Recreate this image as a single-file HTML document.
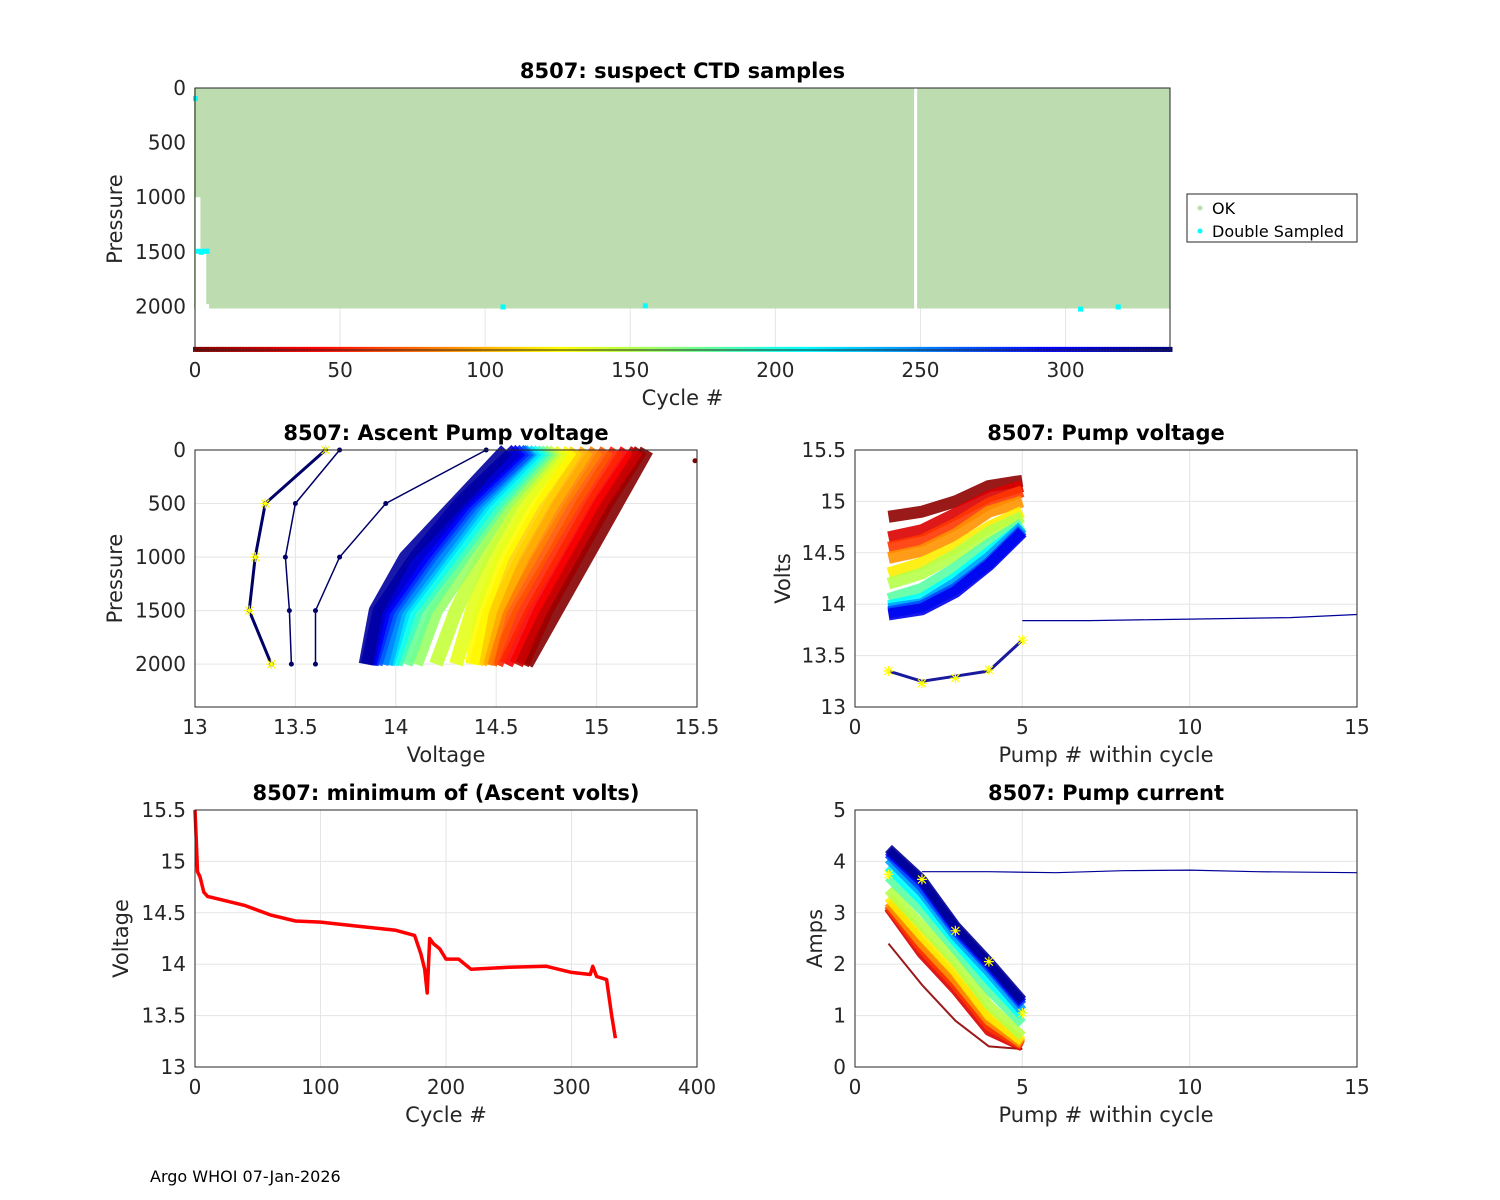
<!DOCTYPE html>
<html><head><meta charset="utf-8"><style>
body{margin:0;background:#fff;}
svg{display:block;font-family:"DejaVu Sans","Liberation Sans",sans-serif;}
</style></head><body>
<svg id="fig" width="1500" height="1200" xmlns="http://www.w3.org/2000/svg">
<rect width="1500" height="1200" fill="#fff"/>
<text x="150" y="1182" font-size="16" fill="#000">Argo WHOI 07-Jan-2026</text>
</svg>
<script>
// ---------- data ----------
const topXTicks=[0,50,100,150,200,250,300];
const topYTicks=[0,500,1000,1500,2000];
const nCycles=336;
const shortProfiles=[[0,1000],[1,1000],[2,1500],[3,1500],[4,1980],[248,0]];
const doubleSampledCycles=[0,1,2,3,4,106,155,305,318];
const doubleSampledPressures=[100,1500,1510,1500,1500,2010,2000,2030,2010];

const apvPressures=[0,500,1000,1500,2000];
const apvCycles=[2,10,25,40,55,70,85,100,112,125,135,145,160,175,190,205,220,235,250,265,280,295,310,325];
const apvVolts=[
[15.25,15.1,14.95,14.8,14.65],[15.22,15.05,14.9,14.75,14.63],[15.2,15.02,14.87,14.72,14.6],
[15.15,14.98,14.83,14.68,14.55],[15.1,14.93,14.78,14.62,14.5],[15.05,14.88,14.72,14.57,14.47],
[15.0,14.82,14.67,14.52,14.45],[14.95,14.78,14.63,14.5,14.42],[14.9,14.73,14.58,14.47,14.4],
[14.87,14.68,14.53,14.43,14.38],[14.83,14.63,14.48,14.38,14.3],[14.8,14.58,14.43,14.3,14.2],
[14.78,14.55,14.38,14.2,14.1],[14.76,14.52,14.33,14.15,14.05],[14.74,14.5,14.3,14.1,14.0],
[14.72,14.47,14.27,14.07,13.98],[14.7,14.44,14.24,14.04,13.96],[14.68,14.42,14.22,14.02,13.95],
[14.67,14.4,14.2,14.0,13.93],[14.66,14.38,14.17,13.98,13.9],[14.64,14.36,14.15,13.96,13.88],
[14.62,14.34,14.13,13.94,13.87],[14.6,14.32,14.1,13.92,13.86],[14.55,14.3,14.05,13.9,13.85]];
const apvOutlierVolts=[[13.65,13.35,13.3,13.27,13.38],[13.72,13.5,13.45,13.47,13.48],[14.45,13.95,13.72,13.6,13.6]];

const pvPumps=[1,2,3,4,5];
const pvCycles=[5,30,60,90,120,150,180,210,240,270,300,330];
const pvVolts=[
[14.85,14.9,15.0,15.15,15.2],[14.65,14.72,14.88,15.05,15.15],[14.55,14.62,14.78,14.98,15.1],
[14.45,14.52,14.68,14.9,15.0],[14.3,14.4,14.55,14.75,14.9],[14.2,14.3,14.48,14.7,14.85],
[14.05,14.15,14.35,14.58,14.78],[13.98,14.05,14.25,14.5,14.75],[13.95,14.0,14.2,14.45,14.75],
[13.92,13.98,14.15,14.4,14.72],[13.9,13.95,14.12,14.38,14.7],[13.35,13.25,13.3,13.35,13.65]];
const pvLongPumps=[5,7,9,11,13,15];
const pvLongVolts=[13.84,13.84,13.85,13.86,13.87,13.9];
const pvStarVolts=[13.35,13.23,13.28,13.36,13.65];

const pcCycles=[5,30,60,90,120,150,180,210,240,270,300,330];
const pcAmps=[
[2.4,1.6,0.9,0.4,0.35],[3.1,2.2,1.5,0.7,0.4],[3.15,2.3,1.6,0.8,0.42],
[3.2,2.4,1.7,0.9,0.45],[3.3,2.55,1.85,1.0,0.5],[3.45,2.75,2.05,1.2,0.6],
[3.7,3.05,2.3,1.5,0.85],[3.9,3.25,2.45,1.7,1.0],[4.05,3.4,2.55,1.85,1.1],
[4.15,3.5,2.65,1.95,1.2],[4.2,3.6,2.7,2.0,1.25],[4.25,3.65,2.75,2.05,1.3]];
const pcLongPumps=[2,4,6,8,10,12,15];
const pcLongAmps=[3.8,3.8,3.78,3.82,3.83,3.8,3.78];
const pcStarAmps=[3.75,3.65,2.65,2.05,1.05];

const mvCycles=[0,1,2,4,5,7,10,20,40,60,80,100,130,160,175,180,183,185,187,190,195,200,210,220,250,280,300,315,317,320,328,332,335];
const mvVolts=[15.5,15.2,14.9,14.85,14.8,14.7,14.66,14.63,14.57,14.48,14.42,14.41,14.37,14.33,14.28,14.1,13.95,13.72,14.25,14.2,14.15,14.05,14.05,13.95,13.97,13.98,13.92,13.9,13.98,13.88,13.85,13.5,13.28];

// ---------- helpers ----------
const NS="http://www.w3.org/2000/svg";
const svg=document.getElementById('fig');
function el(tag,attrs,parent){const e=document.createElementNS(NS,tag);for(const k in attrs)e.setAttribute(k,attrs[k]);(parent||svg).appendChild(e);return e;}
function jet(t){t=Math.max(0,Math.min(1,t));const f=x=>Math.max(0,Math.min(1,x));
 const r=f(1.5-Math.abs(4*t-3)),g=f(1.5-Math.abs(4*t-2)),b=f(1.5-Math.abs(4*t-1));
 return `rgb(${Math.round(r*255)},${Math.round(g*255)},${Math.round(b*255)})`;}
function cycColor(c){return jet(1-c/nCycles);}
function makeAxes(name,box,xd,yd,xt,yt,revY,opts){
 const g=el('g',{});
 
 
 const sx=v=>box.x+(v-xd[0])/(xd[1]-xd[0])*box.w;
 const sy=revY?v=>box.y+(v-yd[0])/(yd[1]-yd[0])*box.h:v=>box.y+box.h-(v-yd[0])/(yd[1]-yd[0])*box.h;
 const grid=el('g',{},g);
 if(opts.grid){xt.forEach(v=>el('line',{x1:sx(v),x2:sx(v),y1:box.y,y2:box.y+box.h,stroke:'#e5e5e5','stroke-width':1},grid));
  yt.forEach(v=>el('line',{x1:box.x,x2:box.x+box.w,y1:sy(v),y2:sy(v),stroke:'#e5e5e5','stroke-width':1},grid));}
 const plot=el('g',{},g);
 const frame=el('g',{},g);
 return {g,plot,frame,sx,sy,box,finish(){
  el('rect',{x:box.x,y:box.y,width:box.w,height:box.h,fill:'none',stroke:'#262626','stroke-width':1},frame);
  xt.forEach(v=>{const t=el('text',{x:sx(v),y:box.y+box.h+27,'font-size':20,'text-anchor':'middle',fill:'#262626'},frame);t.textContent=v;
   });
  yt.forEach(v=>{const t=el('text',{x:box.x-9,y:sy(v)+7,'font-size':20,'text-anchor':'end',fill:'#262626'},frame);t.textContent=v;
   });
  const tt=el('text',{x:box.x+box.w/2,y:box.y-10,'font-size':21,'font-weight':'bold','text-anchor':'middle',fill:'#000'},frame);tt.textContent=opts.title;
  
  const xl=el('text',{x:box.x+box.w/2,y:box.y+box.h+55,'font-size':21,'text-anchor':'middle',fill:'#262626'},frame);xl.textContent=opts.xlabel;
  
  const yl=el('text',{x:0,y:0,'font-size':21,'text-anchor':'middle',fill:'#262626',transform:`translate(${opts.ylx},${box.y+box.h/2}) rotate(-90)`},frame);yl.textContent=opts.ylabel;
  
 }};
}
function poly(ax,xs,ys,attrs){const pts=xs.map((x,i)=>ax.sx(x).toFixed(1)+','+ax.sy(ys[i]).toFixed(1)).join(' ');
 const p=el('polyline',Object.assign({points:pts,fill:'none'},attrs),ax.plot);return p;}
function star(ax,x,y){const cx=ax.sx(x),cy=ax.sy(y);const s=el('path',{d:`M${cx-5},${cy}h10M${cx},${cy-5}v10M${cx-4},${cy-4}l8,8M${cx-4},${cy+4}l8,-8`,stroke:'#ffff00','stroke-width':1.2},ax.plot);
 }

// ---------- top panel ----------
(function(){
 const ax=makeAxes('suspect-ctd-panel',{x:195,y:88,w:975,h:262},[0,nCycles],[0,2400],topXTicks,topYTicks,true,{grid:true,title:'8507: suspect CTD samples',xlabel:'Cycle #',ylabel:'Pressure',ylx:122});
 el('rect',{x:194,y:88,width:976,height:ax.sy(2020)-88,fill:'#bddcb0'},ax.plot);
 shortProfiles.forEach(([c,p])=>{const x=ax.sx(c);el('rect',{x:x-0.5,y:ax.sy(p||1),width:3,height:ax.sy(2025)-ax.sy(p),fill:'#fff'},ax.plot);});
 el('rect',{x:ax.sx(248),y:88,width:1.5,height:ax.sy(2020)-88,fill:'#fff'},ax.plot);
 doubleSampledCycles.forEach((c,i)=>{const d=el('rect',{x:ax.sx(c)-2,y:ax.sy(doubleSampledPressures[i])-3,width:5,height:5,fill:'#00ffff'},ax.plot);
  });
 for(let c=0;c<=nCycles;c++){el('rect',{x:ax.sx(c)-2,y:ax.sy(2390)-2,width:4.5,height:5,fill:cycColor(c)},ax.plot);}
 ax.finish();
 const lg=el('g',{});
 el('rect',{x:1187,y:194,width:170,height:48,fill:'#fff',stroke:'#262626'},lg);
 el('circle',{cx:1200,cy:208,r:2.5,fill:'#bddcb0'},lg);
 el('circle',{cx:1200,cy:231,r:2.5,fill:'#00ffff'},lg);
 const t1=el('text',{x:1212,y:214,'font-size':16},lg);t1.textContent='OK';
 const t2=el('text',{x:1212,y:237,'font-size':16},lg);t2.textContent='Double Sampled';
})();

// ---------- ascent pump voltage ----------
(function(){
 const ax=makeAxes('ascent-pump-voltage-panel',{x:195,y:450,w:502,h:257},[13,15.5],[0,2400],[13,13.5,14,14.5,15,15.5],[0,500,1000,1500,2000],true,{grid:true,title:'8507: Ascent Pump voltage',xlabel:'Voltage',ylabel:'Pressure',ylx:122});
 apvVolts.forEach((vs,i)=>{
  const c=apvCycles[i];
  const pts=vs.map((v,j)=>ax.sx(v).toFixed(1)+','+ax.sy(apvPressures[j]).toFixed(1)).join(' ');
  const p=el('polyline',{points:pts,fill:'none',stroke:cycColor(c),'stroke-width':14,'stroke-linejoin':'round','stroke-opacity':0.9},ax.plot);
  
 });
 apvOutlierVolts.forEach((vs,i)=>{
  const pts=vs.map((v,j)=>ax.sx(v).toFixed(1)+','+ax.sy(apvPressures[j]).toFixed(1)).join(' ');
  const p=el('polyline',{points:pts,fill:'none',stroke:'#000066','stroke-width':i==0?3:1.5},ax.plot);
  
  vs.forEach((v,j)=>el('circle',{cx:ax.sx(v),cy:ax.sy(apvPressures[j]),r:2.5,fill:'#000066'},ax.plot));
 });
 el('circle',{cx:ax.sx(15.49),cy:ax.sy(100),r:2.5,fill:'#800000'},ax.plot);
 apvOutlierVolts[0].forEach((v,j)=>star(ax,v,apvPressures[j]));
 ax.finish();
})();

// ---------- pump voltage ----------
(function(){
 const ax=makeAxes('pump-voltage-panel',{x:855,y:450,w:502,h:257},[0,15],[13,15.5],[0,5,10,15],[13,13.5,14,14.5,15,15.5],false,{grid:true,title:'8507: Pump voltage',xlabel:'Pump # within cycle',ylabel:'Volts',ylx:790});
 pvVolts.forEach((vs,i)=>{const p=poly(ax,pvPumps.slice(0,vs.length),vs,{stroke:cycColor(pvCycles[i]),'stroke-width':i==pvVolts.length-1?3:12,'stroke-linejoin':'round','stroke-opacity':0.9});
  });
 const l=poly(ax,pvLongPumps,pvLongVolts,{stroke:'#000099','stroke-width':1.2});
 
 pvStarVolts.forEach((v,j)=>star(ax,pvPumps[j],v));
 ax.finish();
})();

// ---------- minimum ascent volts ----------
(function(){
 const ax=makeAxes('minimum-ascent-volts-panel',{x:195,y:810,w:502,h:257},[0,400],[13,15.5],[0,100,200,300,400],[13,13.5,14,14.5,15,15.5],false,{grid:true,title:'8507: minimum of (Ascent volts)',xlabel:'Cycle #',ylabel:'Voltage',ylx:128});
 const l=poly(ax,mvCycles,mvVolts,{stroke:'#ff0000','stroke-width':3.5,'stroke-linejoin':'round'});
 
 ax.finish();
})();

// ---------- pump current ----------
(function(){
 const ax=makeAxes('pump-current-panel',{x:855,y:810,w:502,h:257},[0,15],[0,5],[0,5,10,15],[0,1,2,3,4,5],false,{grid:true,title:'8507: Pump current',xlabel:'Pump # within cycle',ylabel:'Amps',ylx:822});
 pcAmps.forEach((vs,i)=>{const p=poly(ax,pvPumps,vs,{stroke:cycColor(pcCycles[i]),'stroke-width':i==0?2:10,'stroke-linejoin':'round','stroke-opacity':0.9});
  });
 const l=poly(ax,pcLongPumps,pcLongAmps,{stroke:'#000099','stroke-width':1.2});
 
 pcStarAmps.forEach((v,j)=>star(ax,pvPumps[j],v));
 ax.finish();
})();
</script>
</body></html>
